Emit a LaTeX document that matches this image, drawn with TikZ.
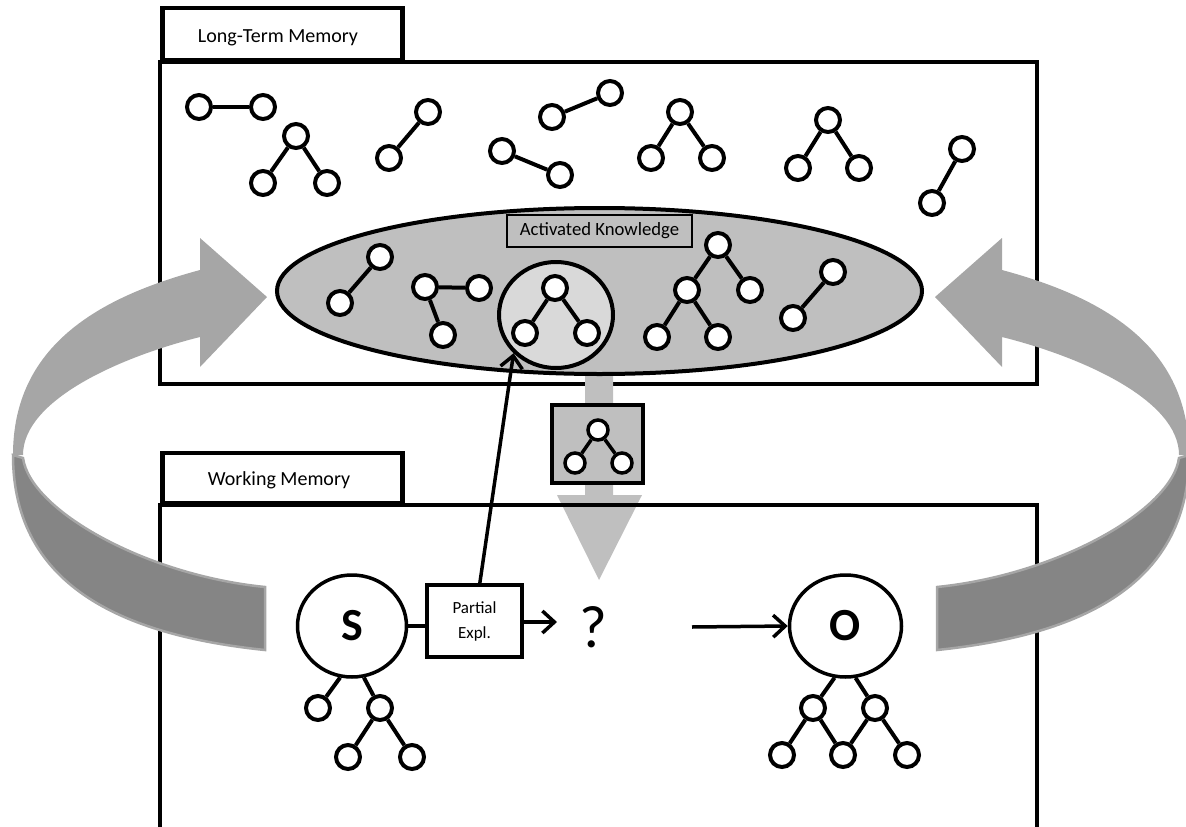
\documentclass[tikz,border=0pt]{standalone}
\usepackage{fontspec}
\setmainfont{Carlito}
\usetikzlibrary{shapes.geometric,arrows.meta}
\definecolor{arrowlight}{HTML}{A6A6A6}
\definecolor{arrowdark}{HTML}{858585}
\definecolor{ellfill}{HTML}{BFBFBF}
\definecolor{innerfill}{HTML}{D9D9D9}
\begin{document}
\begin{tikzpicture}[x=1pt,y=-1pt,
  dot/.style={circle,draw,line width=4pt,fill=white,minimum size=24pt,inner sep=0pt},
  sdot/.style={circle,draw,line width=3.5pt,fill=white,minimum size=20pt,inner sep=0pt},
  link/.style={line width=4pt},
  frame/.style={draw,line width=4.5pt},
  tabtext/.style={font=\fontsize{20}{24}\selectfont},
  bigcirc/.style={ellipse,draw,line width=3.5pt,fill=white,inner sep=0pt,font=\fontsize{46}{50}\selectfont\bfseries},
  arr/.style={line width=3.5pt,-{Straight Barb[length=12pt,width=22pt]}},
  lightarrow/.style={fill=arrowlight},
  darkarrow/.style={fill=arrowdark,draw=arrowlight,line width=2.5pt},
  grayfill/.style={fill=ellfill}
]
\useasboundingbox (0,0) rectangle (1186,827);

% Long-term memory frame
\draw[frame] (160,62) rectangle (1037,384);
\node[frame,minimum width=240pt,minimum height=52pt,inner sep=0pt,anchor=south west] (ltmtab) at (160,62) {};
\node[tabtext] (ltmlabel) at (278,38) {Long-Term Memory};

% gray downward arrow
\fill[grayfill] (585,372) -- (613,372) -- (613,495) -- (642,495) -- (599,580) -- (557,495) -- (585,495) -- cycle;

% activated knowledge ellipse
\draw[line width=4pt,fill=ellfill] (599.5,291) ellipse [x radius=322.5, y radius=83];
\node[draw,line width=1.8pt,fill=ellfill,minimum width=185pt,minimum height=32pt,inner sep=0pt,font=\fontsize{18.7}{22}\selectfont] (ak) at (599.5,231) {Activated Knowledge};
\node[ellipse,draw,line width=4pt,fill=innerfill,minimum width=114pt,minimum height=106pt] (K) at (556,315) {};

% nodes inside ellipse
\node[dot] (i1) at (380,257) {};
\node[dot] (i2) at (340,303) {};
\draw[link] (i1) -- (i2);
\node[dot] (j1) at (425,287) {};
\node[dot] (j2) at (479,288) {};
\node[dot] (j3) at (443,335) {};
\draw[link] (j1) -- (j2) (j1) -- (j3);
\node[dot] (k1) at (555,288) {};
\node[dot] (k2) at (525,333) {};
\node[dot] (k3) at (587,333) {};
\draw[link] (k1) -- (k2) (k1) -- (k3);
\node[dot] (m1) at (718,245) {};
\node[dot] (m2) at (687,290) {};
\node[dot] (m3) at (750,290) {};
\node[dot] (m4) at (657,337) {};
\node[dot] (m5) at (718,337) {};
\draw[link] (m1) -- (m2) (m1) -- (m3) (m2) -- (m4) (m2) -- (m5);
\node[dot] (n1) at (833,272) {};
\node[dot] (n2) at (793,318) {};
\draw[link] (n1) -- (n2);

% long-term memory nodes
\node[dot] (a1) at (199,107) {};
\node[dot] (a2) at (263,107) {};
\draw[link] (a1) -- (a2);
\node[dot] (b1) at (296,136) {};
\node[dot] (b2) at (263,183) {};
\node[dot] (b3) at (327,183) {};
\draw[link] (b1) -- (b2) (b1) -- (b3);
\node[dot] (c1) at (428,112) {};
\node[dot] (c2) at (389,158) {};
\draw[link] (c1) -- (c2);
\node[dot] (d1) at (502,151) {};
\node[dot] (d2) at (560,175) {};
\draw[link] (d1) -- (d2);
\node[dot] (e1) at (552,117) {};
\node[dot] (e2) at (610,93) {};
\draw[link] (e1) -- (e2);
\node[dot] (f1) at (680,112) {};
\node[dot] (f2) at (651,158) {};
\node[dot] (f3) at (712,158) {};
\draw[link] (f1) -- (f2) (f1) -- (f3);
\node[dot] (g1) at (828,120) {};
\node[dot] (g2) at (798,168) {};
\node[dot] (g3) at (859,168) {};
\draw[link] (g1) -- (g2) (g1) -- (g3);
\node[dot] (h1) at (962,149) {};
\node[dot] (h2) at (932,203) {};
\draw[link] (h1) -- (h2);

% retrieved chunk box
\node[draw,line width=4.5pt,fill=ellfill,minimum width=91pt,minimum height=78pt,inner sep=0pt] (G) at (597.5,444) {};
\node[sdot] (t1) at (598,430) {};
\node[sdot] (t2) at (575,463) {};
\node[sdot] (t3) at (622,463) {};
\draw[line width=3.5pt] (t1) -- (t2) (t1) -- (t3);

% working memory frame
\draw[frame] (160,505) rectangle (1037,832);
\node[frame,minimum width=240pt,minimum height=50pt,inner sep=0pt,anchor=south west] (wmtab) at (160,505) {};
\node[tabtext] (wmlabel) at (279,480) {Working Memory};

% S and O
\node[bigcirc,minimum width=109pt,minimum height=102pt] (S) at (352,626) {\raisebox{-8pt}{S}};
\node[bigcirc,minimum width=112pt,minimum height=102pt] (O) at (845.5,626) {\raisebox{-7pt}{O}};
\node[draw,line width=4pt,fill=white,minimum width=95pt,minimum height=72pt,inner sep=0pt,align=center,font=\fontsize{17}{25}\selectfont] (P) at (474.5,621) {Partial\\Expl.};
\node[font=\fontsize{60}{60}\selectfont,inner sep=0pt] (Q) at (593,627) {?};
\coordinate (qa) at (557,622);
\coordinate (os) at (692,627);
\draw[line width=3.5pt] (S.east) -- (S.east -| P.west);
\draw[arr] (P.east |- qa) -- (qa);
\draw[arr] (os) -- (O.west);
\draw[arr] (P.82) -- (K.222);

% S tree
\node[dot] (s1) at (318,708) {};
\node[dot] (s2) at (380,708) {};
\node[dot] (s3) at (348,757) {};
\node[dot] (s4) at (412,757) {};
\draw[link] (S.257) -- (s1) (S.283) -- (s2) (s2) -- (s3) (s2) -- (s4);

% O tree
\node[dot] (o1) at (813,708) {};
\node[dot] (o2) at (875,708) {};
\node[dot] (o3) at (782,755) {};
\node[dot] (o4) at (843,755) {};
\node[dot] (o5) at (907,755) {};
\draw[link] (O.258) -- (o1) (O.281) -- (o2) (o1) -- (o3) (o1) -- (o4) (o2) -- (o4) (o2) -- (o5);

% curved arrows
\fill[lightarrow] (200,270) .. controls (100,297) and (13,345) .. (13,455) -- (23,455) .. controls (23,400) and (120,357) .. (200,337) -- (200,367) -- (267,297) -- (200,238) -- cycle;
\filldraw[darkarrow] (13,455) .. controls (13,590) and (130,636) .. (265,650) -- (265,587) .. controls (145,575) and (30,510) .. (23,458) -- cycle;
\begin{scope}[shift={(1202,0)},xscale=-1]
\fill[lightarrow] (200,270) .. controls (100,297) and (13,345) .. (13,455) -- (23,455) .. controls (23,400) and (120,357) .. (200,337) -- (200,367) -- (267,297) -- (200,238) -- cycle;
\filldraw[darkarrow] (13,455) .. controls (13,590) and (130,636) .. (265,650) -- (265,587) .. controls (145,575) and (30,510) .. (23,458) -- cycle;
\end{scope}
\end{tikzpicture}
\end{document}
